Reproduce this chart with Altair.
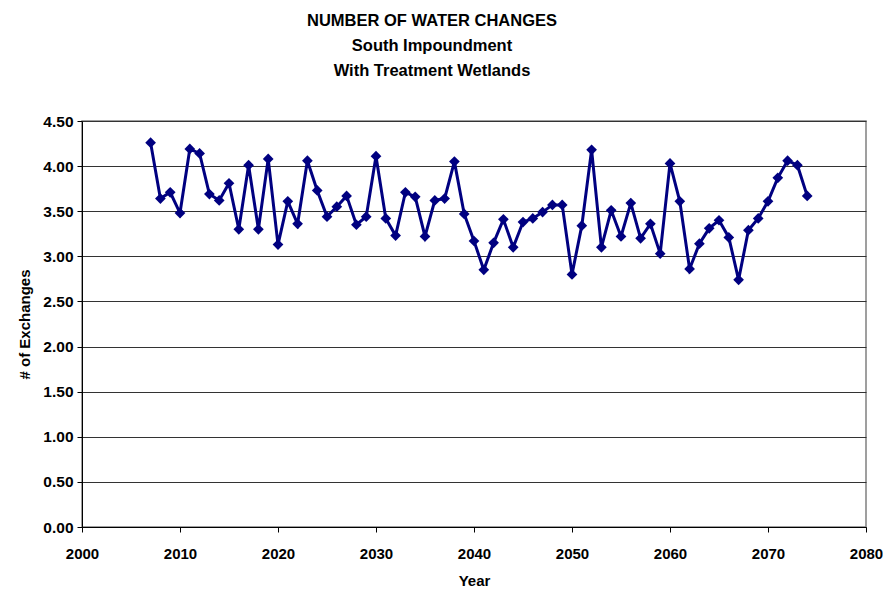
import altair as alt
import pandas as pd

years = list(range(2007, 2075))
exchanges = [
    4.26, 3.64, 3.71, 3.48, 4.19, 4.14, 3.69, 3.62, 3.81, 3.30,
    4.01, 3.30, 4.08, 3.13, 3.61, 3.36, 4.06, 3.73, 3.44, 3.55,
    3.67, 3.35, 3.44, 4.11, 3.42, 3.23, 3.71, 3.66, 3.22, 3.62,
    3.64, 4.05, 3.47, 3.17, 2.85, 3.15, 3.41, 3.10, 3.38, 3.42,
    3.49, 3.57, 3.57, 2.80, 3.34, 4.18, 3.10, 3.51, 3.22, 3.59,
    3.20, 3.36, 3.03, 4.03, 3.61, 2.86, 3.14, 3.31, 3.40, 3.21,
    2.74, 3.29, 3.42, 3.61, 3.87, 4.06, 4.01, 3.67,
]
x_ticks = [2000, 2010, 2020, 2030, 2040, 2050, 2060, 2070, 2080]
y_ticks = [0, 0.5, 1.0, 1.5, 2.0, 2.5, 3.0, 3.5, 4.0, 4.5]

df = pd.DataFrame({"Year": years, "Exchanges": exchanges})

FONT = "Liberation Sans"
NAVY = "#000080"

x = alt.X("Year:Q", scale=alt.Scale(domain=[2000, 2080], nice=False),
          axis=alt.Axis(values=x_ticks, format="d", title="Year", grid=False,
                        labelFlush=False, labelPadding=14, titlePadding=12,
                        labelFontSize=15))
y = alt.Y("Exchanges:Q", scale=alt.Scale(domain=[0, 4.5], nice=False),
          axis=alt.Axis(values=y_ticks, format=".2f", title="# of Exchanges",
                        grid=True, gridColor="#333333", gridWidth=1,
                        labelPadding=4, titlePadding=10))

line = alt.Chart(df).mark_line(color=NAVY, strokeWidth=3).encode(x=x, y=y)
pts = alt.Chart(df).mark_point(shape="diamond", filled=True, color=NAVY,
                               size=115, opacity=1).encode(x=x, y=y)

chart = (line + pts).properties(
    width=784, height=406,
    autosize=alt.AutoSizeParams(type="none"),
    padding={"left": 74, "top": 113, "right": 17, "bottom": 62},
    title=alt.TitleParams(
        text=["NUMBER OF WATER CHANGES", "South Impoundment", "With Treatment Wetlands"],
        font=FONT, fontSize=16.5, fontWeight="bold", color="black",
        anchor="middle", offset=35, lineHeight=25, dx=-42,
    ),
).configure_view(stroke="#808080", strokeWidth=1.5).configure_axis(
    labelFont=FONT, titleFont=FONT, labelFontSize=15.5, titleFontSize=15,
    labelFontWeight="bold", titleFontWeight="bold", labelColor="black",
    titleColor="black", domainColor="black", tickColor="black",
    tickSize=5,
)

chart.save("out.html", embed_options={"renderer": "svg", "actions": False})
